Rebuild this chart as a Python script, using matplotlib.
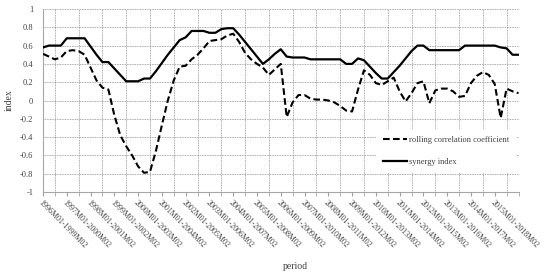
import matplotlib
matplotlib.use("Agg")
import matplotlib.pyplot as plt
import numpy as np

# quarterly rolling windows (81 points), labels every 4 points
tick_labels = ["1996M01-1999M02", "1997M01-2000M02", "1998M01-2001M02", "1999M01-2002M02",
               "2000M01-2003M02", "2001M01-2004M02", "2002M01-2005M02", "2003M01-2006M02",
               "2004M01-2007M02", "2005M01-2008M02", "2006M01-2009M02", "2007M01-2010M02",
               "2008M01-2011M02", "2009M01-2012M02", "2010M01-2013M02", "2011M01-2014M02",
               "2012M01-2015M02", "2013M01-2016M02", "2014M01-2017M02", "2015M01-2018M02"]

rolling_corr = [0.51, 0.48, 0.45, 0.47, 0.54, 0.55, 0.54, 0.50, 0.36, 0.22,
                0.14, 0.12, -0.16, -0.38, -0.50, -0.60, -0.72, -0.79, -0.78, -0.55,
                -0.27, 0.00, 0.22, 0.37, 0.38, 0.45, 0.50, 0.57, 0.65, 0.66,
                0.67, 0.71, 0.73, 0.64, 0.52, 0.45, 0.40, 0.36, 0.28, 0.34,
                0.40, -0.18, -0.02, 0.06, 0.06, 0.02, 0.01, 0.01, 0.00, -0.02,
                -0.06, -0.11, -0.12, 0.12, 0.33, 0.28, 0.19, 0.17, 0.21, 0.25,
                0.10, -0.01, 0.08, 0.19, 0.21, -0.03, 0.11, 0.13, 0.13, 0.10,
                0.04, 0.05, 0.19, 0.27, 0.31, 0.28, 0.18, -0.19, 0.13, 0.10,
                0.08]

synergy = [0.58, 0.60, 0.60, 0.60, 0.68, 0.68, 0.68, 0.68, 0.59, 0.50,
           0.42, 0.42, 0.35, 0.28, 0.21, 0.21, 0.21, 0.24, 0.24, 0.32,
           0.41, 0.50, 0.58, 0.66, 0.69, 0.76, 0.76, 0.76, 0.74, 0.74,
           0.78, 0.79, 0.79, 0.72, 0.64, 0.56, 0.48, 0.40, 0.45, 0.51,
           0.56, 0.48, 0.47, 0.47, 0.47, 0.45, 0.45, 0.45, 0.45, 0.45,
           0.45, 0.40, 0.40, 0.46, 0.44, 0.37, 0.30, 0.24, 0.24, 0.31,
           0.38, 0.46, 0.54, 0.60, 0.60, 0.55, 0.55, 0.55, 0.55, 0.55,
           0.55, 0.60, 0.60, 0.60, 0.60, 0.60, 0.60, 0.58, 0.57, 0.50,
           0.50]

yticks = [1, 0.8, 0.6, 0.4, 0.2, 0, -0.2, -0.4, -0.6, -0.8, -1]
ytick_labels = ["1", "0.8", "0.6", "0.4", "0.2", "0", "-0.2", "-0.4", "-0.6", "-0.8", "-1"]

plt.rcParams['font.family'] = ['Liberation Serif', 'DejaVu Serif']
txt = '#404040'
gridc = '#8c8c8c'

fig = plt.figure(figsize=(5.5, 2.78), dpi=100)
ax = fig.add_axes([43/550, 1-192/278, 475.5/550, 183/278])

x = np.arange(len(synergy))
ax.plot(x, rolling_corr, color='black', lw=1.5, ls=(0, (3.2, 1.6)),
        label='rolling correlation coefficient', zorder=3)
ax.plot(x, synergy, color='black', lw=1.6, label='synergy index', zorder=3)

ax.set_xlim(0, len(synergy) - 1)
ax.set_ylim(-1, 1)

ax.set_yticks(yticks)
ax.set_yticklabels(ytick_labels, fontsize=6, color=txt)
ax.set_xticks(np.arange(0, 4 * len(tick_labels), 4))
ax.set_xticklabels(tick_labels, fontsize=5.8, color=txt, rotation=-45,
                   ha='left', va='top', rotation_mode='anchor')
ax.set_xticks(np.arange(0, len(synergy), 2), minor=True)
ax.tick_params(axis='y', length=0, pad=7)
ax.tick_params(axis='x', which='both', length=3, color='#a0a0a0', pad=2)

ax.grid(True, which='major', axis='y', ls=(0, (1, 1)), color=gridc, lw=0.6)
ax.grid(True, which='minor', axis='x', ls=(0, (1, 1)), color=gridc, lw=0.6)
ax.set_axisbelow(True)

for s in ['top', 'right']:
    ax.spines[s].set_visible(False)
ax.spines['left'].set_color('#a6a6a6')
ax.spines['bottom'].set_color('#a6a6a6')
ax.spines['left'].set_linewidth(0.8)
ax.spines['bottom'].set_linewidth(0.8)

ax.set_ylabel('index', fontsize=7, color=txt)
ax.yaxis.set_label_coords(-0.061, 0.5)
ax.set_xlabel('period', fontsize=7, color=txt)
ax.xaxis.set_label_coords(0.53, -0.385)

leg = ax.legend(loc='upper left', bbox_to_anchor=(0.70, 0.345), fontsize=6,
                frameon=True, fancybox=False, edgecolor='none', facecolor='white',
                framealpha=1, handlelength=2.8, handletextpad=0.3,
                labelspacing=1.6, borderpad=0.9, borderaxespad=0)
for t in leg.get_texts():
    t.set_color(txt)

fig.savefig('out.png', dpi=100)
